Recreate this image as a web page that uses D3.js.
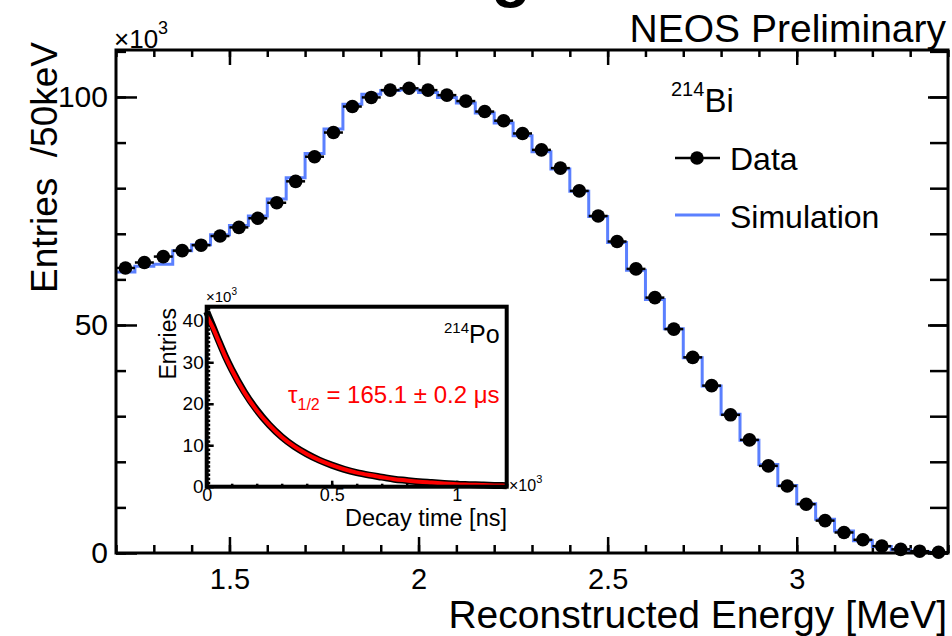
<!DOCTYPE html>
<html>
<head>
<meta charset="utf-8">
<script src="https://d3js.org/d3.v7.min.js"></script>
<style>
  body { margin: 0; background: #fff; }
  svg { font-family: "Liberation Sans", Arial, Helvetica, sans-serif; }
</style>
</head>
<body>
<svg width="952" height="636"></svg>
<script>
// Bi-214 energy spectrum, 50 keV bins from 1.2 MeV (values in units of 10^3)
var binLow = 1.2, binWidth = 0.05;
var dataCounts = [62.5, 63.7, 65.0, 66.3, 67.5, 69.5, 71.4, 73.4, 76.8, 81.5,
                  86.9, 92.2, 97.9, 99.9, 101.5, 101.9, 101.5, 100.4, 99.1, 96.8,
                  94.8, 92.0, 88.4, 84.4, 79.4, 73.9, 68.3, 62.3, 56.0, 49.1,
                  42.9, 36.7, 30.3, 24.8, 19.1, 14.7, 10.7, 7.1, 4.5, 2.9,
                  1.5, 0.8, 0.4, 0.15];
var simCounts = [61.6, 62.9, 63.3, 66.3, 67.6, 69.8, 71.8, 73.9, 77.6, 82.3,
                 87.6, 93.0, 98.4, 100.6, 101.4, 101.6, 101.0, 99.9, 98.7, 96.5,
                 94.3, 91.5, 88.0, 84.2, 79.3, 73.8, 68.1, 62.0, 55.6, 49.2,
                 42.8, 36.6, 30.4, 24.7, 19.4, 14.8, 10.8, 7.4, 4.8, 2.7,
                 1.4, 0.7, 0.3, 0.1];
var xMajorTicks = [1.5, 2, 2.5, 3];
var yMajorTicks = [0, 50, 100];

// Po-214 decay time inset (time in 10^3 ns, entries in 10^3)
var decayTime   = [0, 0.025, 0.05, 0.075, 0.1, 0.15, 0.2, 0.25, 0.3, 0.35, 0.4, 0.45, 0.5,
                   0.55, 0.6, 0.65, 0.7, 0.75, 0.8, 0.85, 0.9, 0.95, 1.0, 1.05, 1.1, 1.15, 1.2];
var decayCounts = [42.2, 38.6, 34.9, 31.4, 28.3, 22.9, 18.5, 14.9, 12.0, 9.7, 7.9, 6.4, 5.2,
                   4.2, 3.4, 2.8, 2.3, 1.8, 1.5, 1.2, 1.0, 0.8, 0.6, 0.5, 0.4, 0.3, 0.25];
var decayFit    = [41.2, 38.3, 34.8, 31.3, 28.2, 22.8, 18.4, 14.9, 12.0, 9.7, 7.9, 6.4, 5.2,
                   4.2, 3.4, 2.8, 2.3, 1.8, 1.5, 1.2, 1.0, 0.8, 0.6, 0.5, 0.4, 0.3, 0.25];
var insetXTicks = [0, 0.5, 1];
var insetYTicks = [0, 10, 20, 30, 40];

var blue = "#5b80ff";
var svg = d3.select("svg");

var frame = {left: 116, right: 948, top: 50, bottom: 553};

var x = d3.scaleLinear().domain([1.2, 3.4]).range([frame.left, frame.right]);
var y = d3.scaleLinear().domain([0, 110.3]).range([frame.bottom, frame.top]);

function minorValues(lo, hi, step) {
  var out = [];
  for (var v = lo; v <= hi + 1e-9; v += step) out.push(+v.toFixed(6));
  return out;
}

function styleAxis(g, size) {
  g.select(".domain").remove();
  g.selectAll("line").attr("stroke", "#000").attr("stroke-width", 2.5);
  g.selectAll("text").attr("fill", "#000").style("font-size", size + "px")
    .style("font-family", '"Liberation Sans", Arial, sans-serif');
}

// bottom of the slide title that sits above the plot
svg.append("text").attr("x", 511).attr("y", -5).attr("text-anchor", "middle")
  .style("font-size", "64px").style("font-weight", "bold").text("g");

// axes of the main frame
svg.append("g").attr("transform", "translate(0," + frame.bottom + ")")
  .call(d3.axisBottom(x).tickValues(minorValues(1.2, 3.4, 0.1)).tickSize(-8).tickFormat(""))
  .call(styleAxis, 28);
svg.append("g").attr("transform", "translate(0," + frame.bottom + ")")
  .call(d3.axisBottom(x).tickValues(xMajorTicks).tickSize(-16).tickPadding(15).tickFormat(d3.format("")))
  .call(styleAxis, 29);
svg.append("g").attr("transform", "translate(0," + frame.top + ")")
  .call(d3.axisTop(x).tickValues(minorValues(1.2, 3.4, 0.1)).tickSize(-7).tickFormat(""))
  .call(styleAxis, 28);
svg.append("g").attr("transform", "translate(0," + frame.top + ")")
  .call(d3.axisTop(x).tickValues(xMajorTicks).tickSize(-15).tickFormat(""))
  .call(styleAxis, 28);

svg.append("g").attr("transform", "translate(" + frame.left + ",0)")
  .call(d3.axisLeft(y).tickValues(minorValues(0, 110, 10)).tickSize(-10).tickFormat(""))
  .call(styleAxis, 29);
svg.append("g").attr("transform", "translate(" + frame.left + ",0)")
  .call(d3.axisLeft(y).tickValues(yMajorTicks).tickSize(-21).tickPadding(8).tickFormat(d3.format("")))
  .call(styleAxis, 30);
svg.append("g").attr("transform", "translate(" + frame.right + ",0)")
  .call(d3.axisRight(y).tickValues(minorValues(0, 110, 10)).tickSize(-18).tickFormat(""))
  .call(styleAxis, 28);
svg.append("g").attr("transform", "translate(" + frame.right + ",0)")
  .call(d3.axisRight(y).tickValues(yMajorTicks).tickSize(-20).tickFormat(""))
  .call(styleAxis, 28);

// simulation histogram
var simPoints = simCounts.map(function(v, i) { return [binLow + i * binWidth, v]; });
simPoints.push([binLow + simCounts.length * binWidth, simCounts[simCounts.length - 1]]);
svg.append("path")
  .datum(simPoints)
  .attr("fill", "none")
  .attr("stroke", blue)
  .attr("stroke-width", 3)
  .attr("d", d3.line()
    .x(function(d) { return x(d[0]); })
    .y(function(d) { return y(d[1]); })
    .curve(d3.curveStepAfter));

// data points with bin-width error bars
var dots = svg.append("g");
dots.selectAll("line")
  .data(dataCounts)
  .enter()
  .append("line")
  .attr("x1", function(d, i) { return x(binLow + i * binWidth); })
  .attr("x2", function(d, i) { return x(binLow + (i + 1) * binWidth); })
  .attr("y1", function(d) { return y(d); })
  .attr("y2", function(d) { return y(d); })
  .attr("stroke", "#000")
  .attr("stroke-width", 2.5);
dots.selectAll("circle")
  .data(dataCounts)
  .enter()
  .append("circle")
  .attr("cx", function(d, i) { return x(binLow + (i + 0.5) * binWidth); })
  .attr("cy", function(d) { return y(d); })
  .attr("r", 6.8)
  .attr("fill", "#000");

// frame
svg.append("rect")
  .attr("x", frame.left).attr("y", frame.top)
  .attr("width", frame.right - frame.left).attr("height", frame.bottom - frame.top)
  .attr("fill", "none").attr("stroke", "#000").attr("stroke-width", 3);

// main texts
var mult = svg.append("text").attr("x", 114).attr("y", 48).style("font-size", "26px");
mult.append("tspan").text("\u00d710");
mult.append("tspan").attr("dy", -14).style("font-size", "18px").text("3");

svg.append("text").attr("x", 946).attr("y", 42).attr("text-anchor", "end")
  .style("font-size", "39px").text("NEOS Preliminary");

svg.append("text").attr("x", 947).attr("y", 628).attr("text-anchor", "end")
  .style("font-size", "39px").text("Reconstructed Energy [MeV]");

svg.append("text").attr("transform", "translate(57,42) rotate(-90)").attr("text-anchor", "end")
  .style("font-size", "37px").text("Entries\u00a0\u00a0/50keV");

// legend
var bi = svg.append("text").attr("x", 671).attr("y", 112);
bi.append("tspan").style("font-size", "20px").attr("dy", -16).text("214");
bi.append("tspan").style("font-size", "33px").attr("dy", 16).text("Bi");

svg.append("line").attr("x1", 675).attr("x2", 720).attr("y1", 158).attr("y2", 158)
  .attr("stroke", "#000").attr("stroke-width", 2.5);
svg.append("circle").attr("cx", 697).attr("cy", 158).attr("r", 6.8).attr("fill", "#000");
svg.append("text").attr("x", 730).attr("y", 170).style("font-size", "32px").text("Data");

svg.append("line").attr("x1", 675).attr("x2", 720).attr("y1", 215).attr("y2", 215)
  .attr("stroke", blue).attr("stroke-width", 3);
svg.append("text").attr("x", 730).attr("y", 228).style("font-size", "32px").text("Simulation");

// inset
var inset = {left: 206.7, right: 506.7, top: 306.7, bottom: 486.7};
var ix = d3.scaleLinear().domain([0, 1.2]).range([inset.left, inset.right]);
var iy = d3.scaleLinear().domain([0, 43.4]).range([inset.bottom, inset.top]);

svg.append("rect")
  .attr("x", inset.left).attr("y", inset.top)
  .attr("width", inset.right - inset.left).attr("height", inset.bottom - inset.top)
  .attr("fill", "#fff");

svg.append("g").attr("transform", "translate(0," + inset.bottom + ")")
  .call(d3.axisBottom(ix).tickValues(minorValues(0, 1.2, 0.1)).tickSize(-3).tickFormat(""))
  .call(styleAxis, 16);
svg.append("g").attr("transform", "translate(0," + inset.bottom + ")")
  .call(d3.axisBottom(ix).tickValues(insetXTicks).tickSize(-6).tickPadding(2).tickFormat(d3.format("")))
  .call(styleAxis, 18);
svg.append("g").attr("transform", "translate(" + inset.left + ",0)")
  .call(d3.axisLeft(iy).tickValues(minorValues(0, 43, 1)).tickSize(-3.5).tickFormat(""))
  .call(styleAxis, 16);
svg.append("g").attr("transform", "translate(" + inset.left + ",0)")
  .call(d3.axisLeft(iy).tickValues(insetYTicks).tickSize(-7).tickPadding(3).tickFormat(d3.format("")))
  .call(styleAxis, 19);

var decayLine = d3.line()
  .x(function(d) { return ix(d[0]); })
  .y(function(d) { return iy(d[1]); })
  .curve(d3.curveMonotoneX);

svg.append("path")
  .datum(decayTime.map(function(t, i) { return [t, decayCounts[i]]; }))
  .attr("fill", "none").attr("stroke", "#000").attr("stroke-width", 7)
  .attr("d", decayLine);
svg.append("path")
  .datum(decayTime.map(function(t, i) { return [t, decayFit[i]]; }))
  .attr("fill", "none").attr("stroke", "#ff0000").attr("stroke-width", 4)
  .attr("d", decayLine);

svg.append("rect")
  .attr("x", inset.left).attr("y", inset.top)
  .attr("width", inset.right - inset.left).attr("height", inset.bottom - inset.top)
  .attr("fill", "none").attr("stroke", "#000").attr("stroke-width", 4);

var im1 = svg.append("text").attr("x", 206).attr("y", 302).style("font-size", "15px");
im1.append("tspan").text("\u00d710");
im1.append("tspan").attr("dy", -7).style("font-size", "10px").text("3");

var im2 = svg.append("text").attr("x", 509).attr("y", 491).style("font-size", "16px");
im2.append("tspan").text("\u00d710");
im2.append("tspan").attr("dy", -8).style("font-size", "11px").text("3");

svg.append("text").attr("x", 507).attr("y", 526).attr("text-anchor", "end")
  .style("font-size", "23.5px").text("Decay time [ns]");

svg.append("text").attr("transform", "translate(176,308) rotate(-90)").attr("text-anchor", "end")
  .style("font-size", "23px").text("Entries");

var po = svg.append("text").attr("x", 444).attr("y", 343);
po.append("tspan").style("font-size", "15px").attr("dy", -10).text("214");
po.append("tspan").style("font-size", "25px").attr("dy", 10).text("Po");

var tau = svg.append("text").attr("x", 288).attr("y", 403).attr("fill", "#ff0000").style("font-size", "24px");
tau.append("tspan").text("\u03c4");
tau.append("tspan").attr("dy", 7).style("font-size", "16px").text("1/2");
tau.append("tspan").attr("dy", -7).text(" = 165.1 \u00b1 0.2 \u03bcs");
</script>
</body>
</html>
